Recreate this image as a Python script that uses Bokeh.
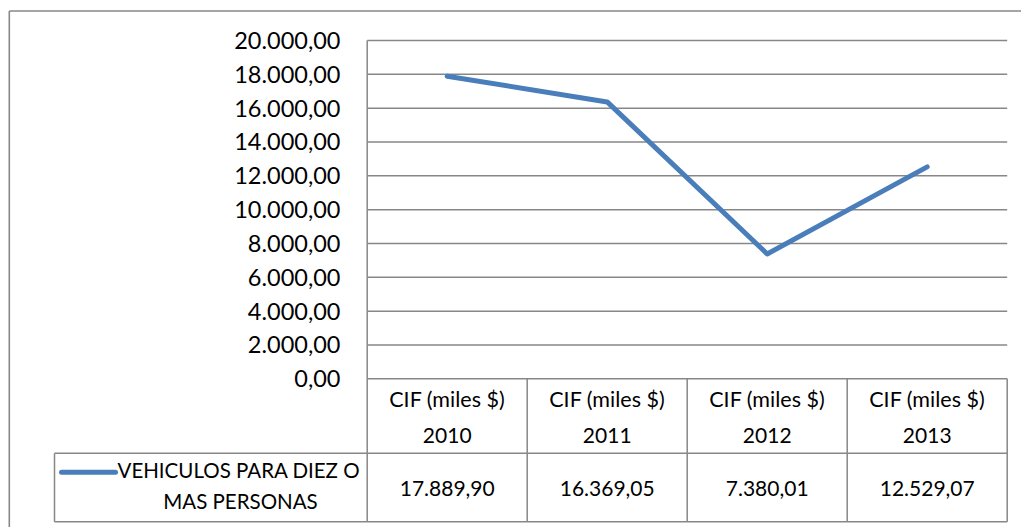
from bokeh.plotting import figure
from bokeh.models import Range1d
from bokeh.core.properties import value
from bokeh.embed import file_html
from bokeh.resources import INLINE

# ---------------- data ----------------
years = ["2010", "2011", "2012", "2013"]
header_label = "CIF (miles $)"
series_name_lines = ["VEHICULOS PARA DIEZ O", "MAS PERSONAS"]
cif_values = [17889.90, 16369.05, 7380.01, 12529.07]
y_ticks = [0, 2000, 4000, 6000, 8000, 10000, 12000, 14000, 16000, 18000, 20000]


def fmt_es(v):
    s = f"{v:,.2f}"
    return s.replace(",", "X").replace(".", ",").replace("X", ".")


# ---------------- layout helpers (page pixels -> data units) ----------------
X0 = 366.7          # page x of first column edge
CW = 160.0          # column width in px
Y0 = 378.3          # page y of value 0
PPV = 338.3 / 20000 # px per unit


def xd(px):
    return (px - X0) / CW


def yd(py):
    return (Y0 - py) / PPV


W, H = 1021, 527
p = figure(width=W, height=H, x_range=Range1d(xd(0), xd(W)),
           y_range=Range1d(yd(H), yd(0)), output_backend="svg",
           toolbar_location=None, min_border=0, outline_line_color=None)
p.axis.visible = False
p.grid.visible = False
p.background_fill_color = "white"
p.border_fill_color = "white"

GRID = "#878787"
FONT = value("Lato")
FS = value("21px")
n = len(years)

# outer chart border (left and top visible)
p.segment(x0=[xd(8.8), xd(8.8)], y0=[yd(10.5), yd(10.5)],
          x1=[xd(8.8), xd(1040)], y1=[yd(540), yd(10.5)],
          line_color=GRID, line_width=1.6)

# horizontal gridlines
p.segment(x0=[0] * len(y_ticks), x1=[n] * len(y_ticks), y0=y_ticks, y1=y_ticks,
          line_color=GRID, line_width=1.5)
# y axis line
p.segment(x0=[0], x1=[0], y0=[y_ticks[-1]], y1=[yd(521.3)],
          line_color=GRID, line_width=1.5)

# data table lines
row1 = yd(452.8)
row2 = yd(521.3)
legend_left = xd(54)
p.segment(x0=list(range(1, n + 1)), x1=list(range(1, n + 1)),
          y0=[0] * n, y1=[row2] * n, line_color=GRID, line_width=1.5)
p.segment(x0=[legend_left, legend_left, legend_left], x1=[n, n, legend_left],
          y0=[row1, row2, row1], y1=[row1, row2, row2],
          line_color=GRID, line_width=1.5)

# the series line
xs = [i + 0.5 for i in range(n)]
p.line(xs, cif_values, line_color="#4A7EBB", line_width=5,
       line_join="round", line_cap="round")

# y tick labels
p.text(x=[xd(340)] * len(y_ticks), y=y_ticks, text=[fmt_es(v) for v in y_ticks],
       text_align="right", text_baseline="middle", text_font=FONT,
       text_font_size=value("23.5px"), text_color="black")

# table header
p.text(x=xs, y=[yd(398)] * n, text=[header_label] * n, text_align="center",
       text_baseline="middle", text_font=FONT, text_font_size=value("21.5px"),
       text_color="black")
p.text(x=xs, y=[yd(435)] * n, text=years, text_align="center",
       text_baseline="middle", text_font=FONT, text_font_size=FS, text_color="black")
# table values
p.text(x=xs, y=[yd(488)] * n, text=[fmt_es(v) for v in cif_values], text_align="center",
       text_baseline="middle", text_font=FONT, text_font_size=FS, text_color="black")

# legend key + series name
p.line([xd(61), xd(115)], [yd(471.7), yd(471.7)], line_color="#4A7EBB",
       line_width=5, line_cap="round")
p.text(x=[xd(117), xd(240)], y=[yd(469), yd(500)], text=series_name_lines,
       text_align=["left", "center"], text_baseline="middle", text_font=FONT,
       text_font_size=value("20.5px"), text_color="black")

open("out.html", "w").write(file_html(p, INLINE))
